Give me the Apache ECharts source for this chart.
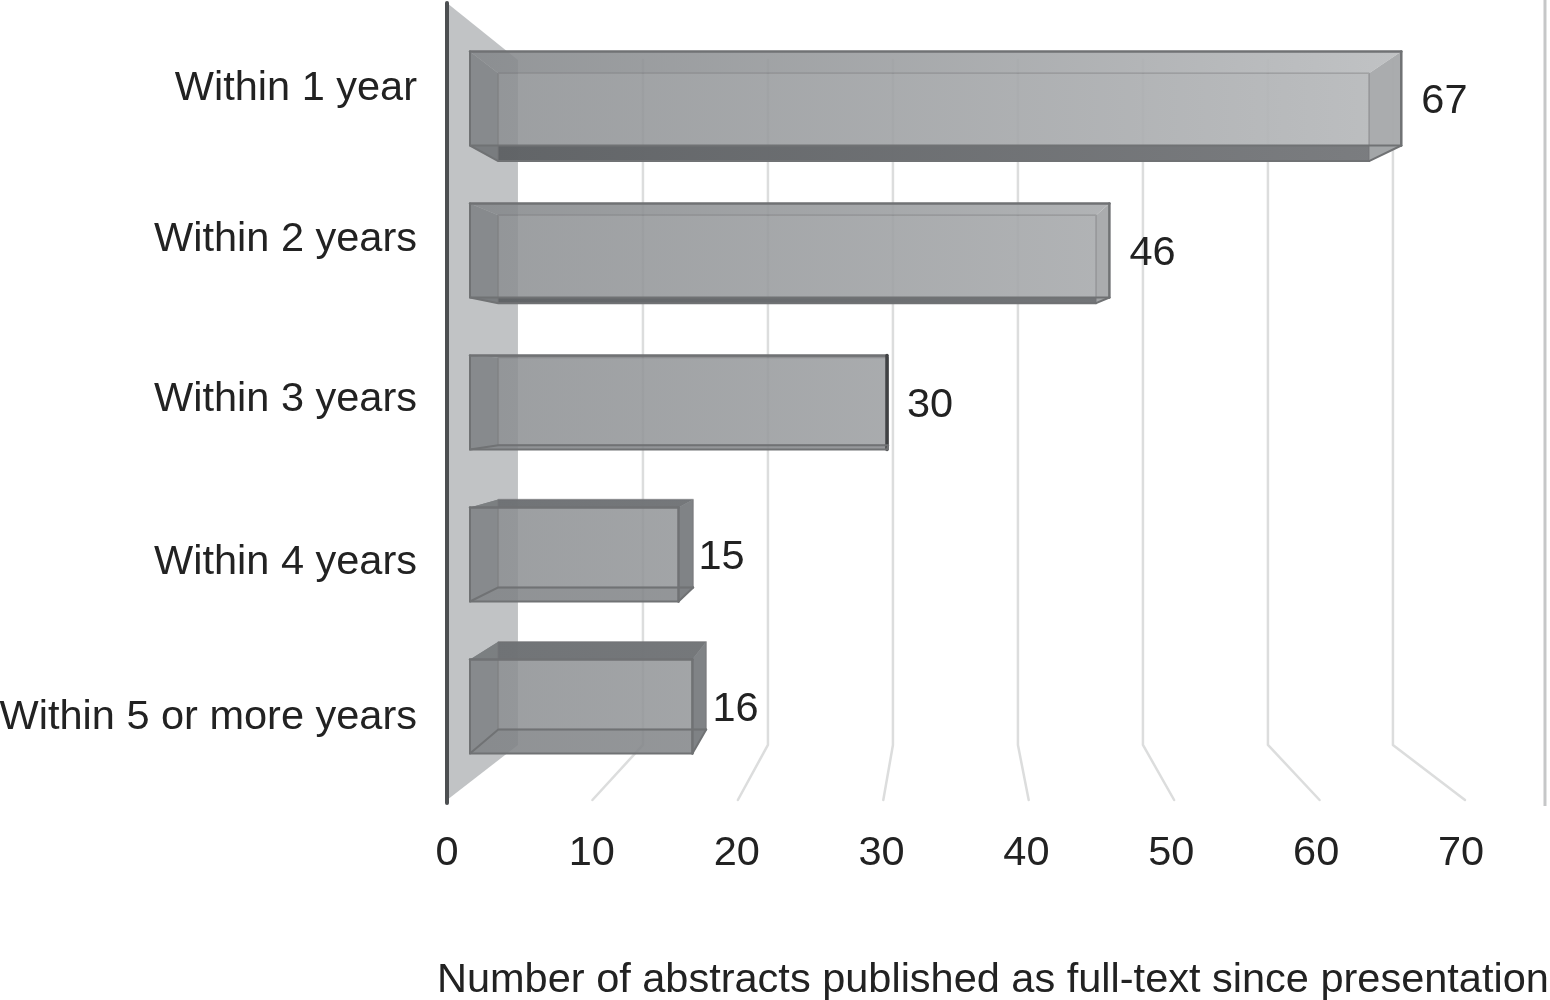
<!DOCTYPE html>
<html><head><meta charset="utf-8">
<style>html,body{margin:0;padding:0;background:#fff}#c{width:1550px;height:1000px}</style>
<script src="https://cdn.jsdelivr.net/npm/echarts@6/dist/echarts.min.js"></script>
</head><body><div id="c"></div>
<script>
const categories = ['Within 1 year','Within 2 years','Within 3 years','Within 4 years','Within 5 or more years'];
const abstractCounts = [67,46,30,15,16];
const tickValues = [0,10,20,30,40,50,60,70];
const axisTitle = 'Number of abstracts published as full-text since presentation';
const labelShiftPx = [-10,-11,-3,8,11];

const FONT = '"Liberation Sans", Arial, sans-serif';
const FS = 41.5, INK = '#222';
const WALL = {t:0.1405, vx:952, vy:408};
const BOX = {t:0.065, vx:905, vy:385, half:47};
const proj = (p,m) => [p[0]+m.t*(m.vx-p[0]), p[1]+m.t*(m.vy-p[1])];
const poly = (points,fill,z2) => ({type:'polygon',z2:z2||0,shape:{points},style:{fill:fill||'none'}});
const line = (points,stroke,lw,z2) => ({type:'polyline',z2:z2||0,shape:{points},style:{fill:'none',stroke,lineWidth:lw,lineJoin:'round',lineCap:'round'}});
const hGrad = (a,b) => ({type:'linear',x:470,y:0,x2:1400,y2:0,global:true,colorStops:[{offset:0,color:a},{offset:1,color:b}]});

function renderWall(params, api){
  const f0 = api.coord([0,1]), f1 = api.coord([0,0]);
  const b0 = proj(f0,WALL), b1 = proj(f1,WALL);
  return {type:'group',children:[
    poly([f0,b0,b1,f1],'#c1c3c5'),
    line([f0,[f1[0],f1[1]+3]],'#4c4f51',4,3)
  ]};
}
function renderGrid(params, api){
  const v = api.value(0);
  const f0 = api.coord([v,0]), b0 = proj(f0,WALL), b1 = proj(api.coord([v,1]),WALL);
  return line([f0,b0,b1],'#dcdddd',2.5);
}
function renderEdge(params, api){
  const v = api.value(0);
  return {type:'line',shape:{x1:api.coord([v,1])[0],y1:0,x2:api.coord([v,0])[0],y2:806},style:{stroke:'#c6c7c8',lineWidth:3}};
}
function renderBar(params, api){
  const v = api.value(0), idx = api.value(1);
  const c = api.coord([v,idx]), x0 = api.coord([0,idx])[0], x1 = c[0];
  const yT = c[1]-BOX.half, yB = c[1]+BOX.half;
  const A=[x0,yT],B=[x1,yT],C=[x1,yB],D=[x0,yB];
  const a=proj(A,BOX),b=proj(B,BOX),cc=proj(C,BOX),d=proj(D,BOX);
  const above = c[1] < BOX.vy-60, below = c[1] > BOX.vy+60;
  const upper = above ? hGrad('rgba(132,135,138,.88)','rgba(190,192,194,.96)')
                      : below ? hGrad('rgba(105,108,111,.85)','rgba(125,127,130,.9)')
                              : hGrad('rgba(120,122,125,.9)','rgba(120,122,125,.9)');
  const lower = above ? hGrad('rgba(92,95,98,.92)','rgba(120,122,125,.95)')
                      : hGrad('rgba(128,131,134,.88)','rgba(150,152,155,.9)');
  const side = x1 > BOX.vx ? 'rgba(165,168,170,.95)' : 'rgba(125,128,131,.92)';
  const edge = '#707274';
  const flat = Math.abs(x1-BOX.vx) < 30;
  const backFill = hGrad('rgba(138,141,144,.85)','rgba(186,188,190,.96)');
  return {type:'group',children:[
    poly([a,b,cc,d],backFill),
    poly([A,B,b,a],upper),
    poly([D,C,cc,d],lower),
    poly([A,a,d,D],'rgba(125,128,131,.85)'),
    poly([B,C,cc,b],side),
    line([a,b,cc,d,a],'rgba(112,114,116,.45)',1.5,2),
    line([A,B],edge,2.5,3),
    line([B,C],flat?'#404244':edge,flat?3.5:2.5,3),
    line([C,cc],edge,2,3),
    line([cc,d,D,A],edge,2,3),
    line([D,C],edge,2,3),
    {type:'text',z2:5,style:{text:String(v),x:x1+20,y:c[1]+3,font:FS+'px '+FONT,fill:INK,align:'left',verticalAlign:'middle'}}
  ]};
}

const rich = {};
labelShiftPx.forEach((s,i)=>{
  rich['s'+i] = {fontFamily:FONT,fontSize:FS,color:INK,padding:s<0?[0,0,-2*s,0]:[2*s,0,0,0]};
});

const chart = echarts.init(document.getElementById('c'),null,{renderer:'canvas'});
chart.setOption({
  animation:false,
  backgroundColor:'#fff',
  title:{text:axisTitle,left:437,top:960,padding:0,textStyle:{fontFamily:FONT,fontSize:FS,fontWeight:'normal',color:INK}},
  grid:[
    {left:470,width:973,top:22.5,height:760,outerBoundsMode:'none'},
    {left:447,width:1018,top:3,height:797,outerBoundsMode:'none'},
    {left:447,width:1014,top:3,height:800,outerBoundsMode:'none'}
  ],
  xAxis:[
    {gridIndex:0,type:'value',min:0,max:70,show:false},
    {gridIndex:1,type:'value',min:0,max:70,show:false},
    {gridIndex:2,type:'value',min:0,max:70,interval:10,
      axisLine:{show:false},axisTick:{show:false},splitLine:{show:false},
      axisLabel:{margin:30,fontFamily:FONT,fontSize:FS,color:INK,formatter:v=>String(v)}}
  ],
  yAxis:[
    {gridIndex:0,type:'category',inverse:true,data:categories,
      axisLine:{show:false},axisTick:{show:false},splitLine:{show:false},
      axisLabel:{margin:53,fontFamily:FONT,fontSize:FS,color:INK,align:'right',interval:0,rich,
        formatter:(val,i)=>'{s'+i+'|'+val+'}'}},
    {gridIndex:1,type:'value',min:0,max:1,show:false},
    {gridIndex:2,type:'value',min:0,max:1,show:false}
  ],
  series:[
    {type:'custom',name:'wall',xAxisIndex:1,yAxisIndex:1,z:1,silent:true,data:[[0]],renderItem:renderWall,clip:false},
    {type:'custom',name:'gridlines',xAxisIndex:1,yAxisIndex:1,z:2,silent:true,data:tickValues.slice(1).map(v=>[v]),renderItem:renderGrid,clip:false},
    {type:'custom',name:'edge',xAxisIndex:1,yAxisIndex:1,z:2,silent:true,data:[[75.5]],renderItem:renderEdge,clip:false},
    {type:'custom',name:'Abstracts',xAxisIndex:0,yAxisIndex:0,z:3,silent:true,
      data:abstractCounts.map((v,i)=>[v,i]),encode:{x:0,y:1},renderItem:renderBar,clip:false}
  ]
});
</script></body></html>
